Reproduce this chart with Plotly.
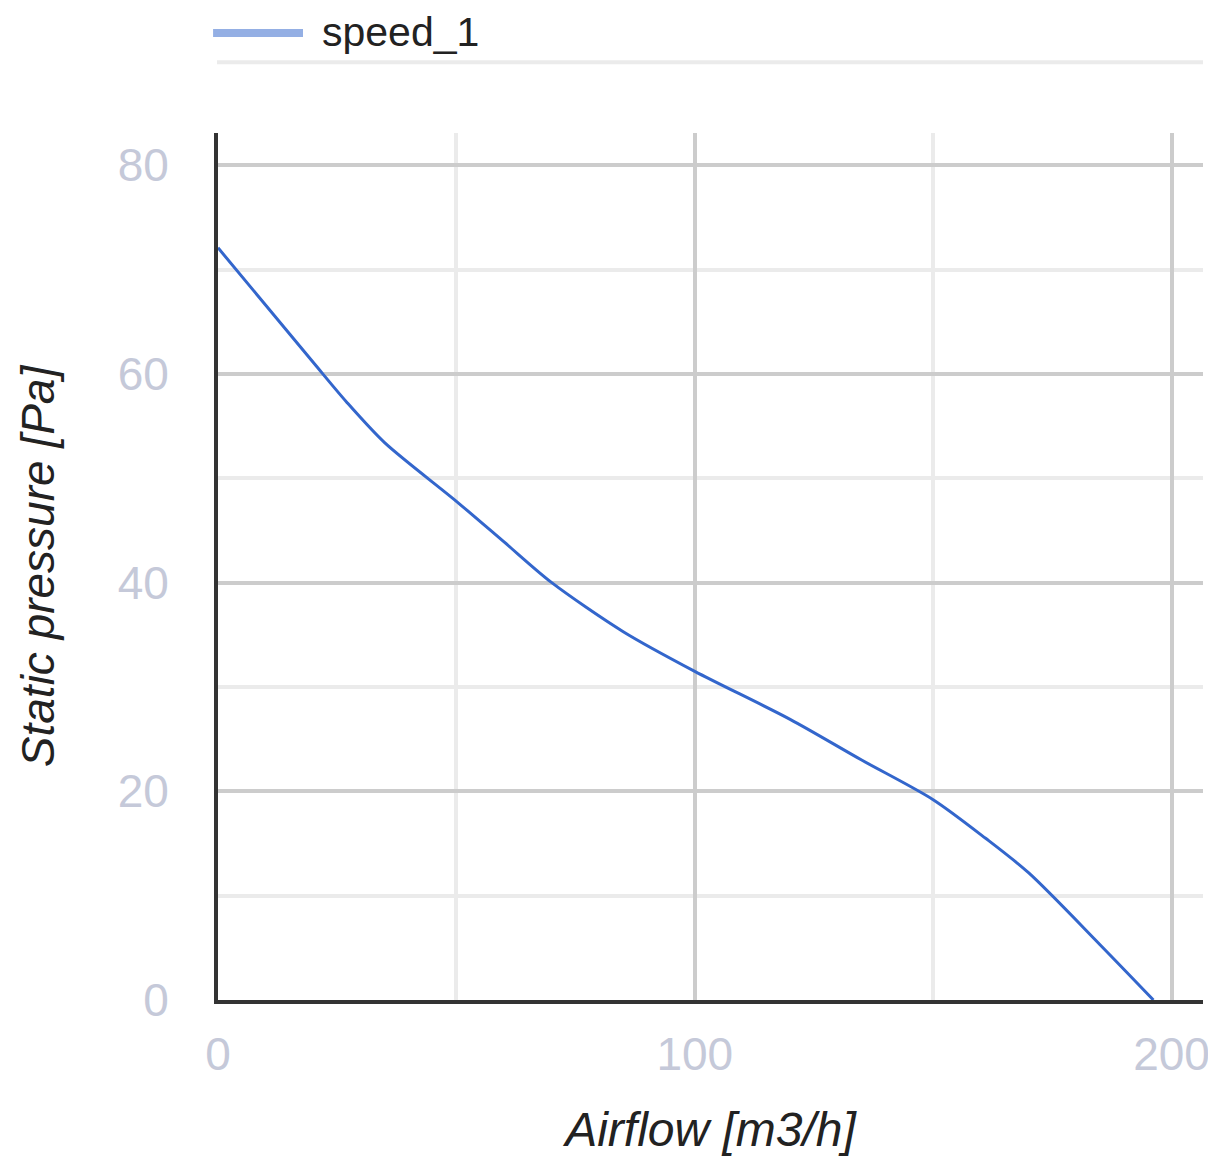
import plotly.graph_objects as go

# fan curve
airflow = [0, 20, 27, 35, 50, 60, 70, 85, 100, 120, 135, 150, 161, 170, 185, 196.2]
pressure = [72.1, 61.1, 57.3, 53.4, 47.8, 43.9, 40.0, 35.3, 31.5, 26.9, 23.0, 19.2, 15.5, 12.2, 5.3, 0]
series_name = "speed_1"
x_title = "Airflow [m3/h]"
y_title = "Static pressure [Pa]"

FONT = "Liberation Sans, Arial, sans-serif"
TICK_COLOR = "#c5c9d9"

fig = go.Figure()
fig.add_trace(go.Scatter(
    x=airflow, y=pressure, mode="lines", name=series_name,
    line=dict(color="#3366cc", width=3, shape="spline", smoothing=0.8),
    showlegend=False, hoverinfo="x+y",
))

axis_common = dict(
    showline=True, linecolor="#333333", linewidth=4, mirror=False,
    showgrid=True, gridcolor="#cccccc", gridwidth=4,
    zeroline=False, automargin=False,
    ticks="outside", tickcolor="rgba(0,0,0,0)",
    tickfont=dict(family=FONT, size=46, color=TICK_COLOR),
)

fig.update_xaxes(
    range=[0, 206.6], tick0=0, dtick=100, ticklen=11,
    minor=dict(dtick=50, showgrid=True, gridcolor="#ebebeb", gridwidth=4, ticks=""),
    title=dict(text=x_title, standoff=34,
               font=dict(family=FONT, size=48, color="#222222", style="italic")),
    **axis_common,
)
fig.update_yaxes(
    range=[0, 83.1], tick0=0, dtick=20, ticklen=36,
    minor=dict(dtick=10, showgrid=True, gridcolor="#ebebeb", gridwidth=4, ticks=""),
    title=dict(text=y_title, standoff=50,
               font=dict(family=FONT, size=46, color="#222222", style="italic")),
    **axis_common,
)

# legend drawn by hand: Google-style line sample, label and separator rule
fig.add_shape(type="line", xref="paper", yref="paper",
              x0=-0.005, x1=0.0863, y0=1.1153, y1=1.1153,
              line=dict(color="#94afe4", width=8))
fig.add_shape(type="line", xref="paper", yref="paper",
              x0=-0.001, x1=1.0, y0=1.0817, y1=1.0817,
              line=dict(color="#ebebeb", width=4))
fig.add_annotation(text=series_name, xref="paper", yref="paper",
                   x=0.1036, y=1.117, xanchor="left", yanchor="middle",
                   showarrow=False, font=dict(family=FONT, size=41, color="#222222"))

# page body adds an 8px margin, so the figure is 8px smaller and shifted
fig.update_layout(
    width=1208, height=1168,
    margin=dict(l=210, r=13, t=125, b=176),
    paper_bgcolor="white", plot_bgcolor="white",
    showlegend=False,
)

fig.write_html("out.html")
